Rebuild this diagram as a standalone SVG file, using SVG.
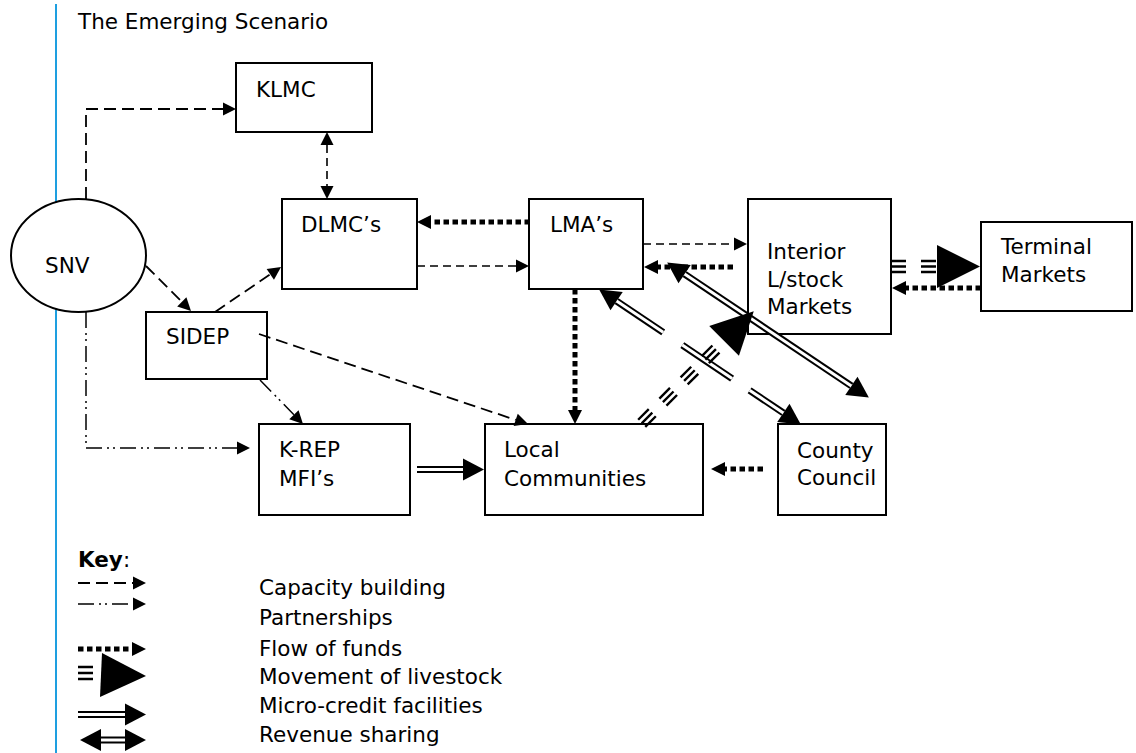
<svg xmlns="http://www.w3.org/2000/svg" width="1136" height="753" viewBox="0 0 1136 753">
<defs>
<style>
text{font-family:"DejaVu Sans",Verdana,sans-serif;font-size:21.5px;fill:#000}
.box{fill:#fff;stroke:#000;stroke-width:2}
.dl{fill:none;stroke:#000;stroke-width:1.8;stroke-dasharray:12 6;marker-end:url(#ah)}
.ds{fill:none;stroke:#000;stroke-width:1.6;stroke-dasharray:8 5;marker-end:url(#ah)}
.dd{fill:none;stroke:#000;stroke-width:1.5;stroke-dasharray:16 5 2 4 2 5;marker-end:url(#ah)}
.dot{fill:none;stroke:#000;stroke-width:5;stroke-dasharray:5.5 3.5;marker-end:url(#ahf)}
.dblb{fill:none;stroke:#000;stroke-width:7}
.dblw{fill:none;stroke:#fff;stroke-width:3}
.tri{fill:none;stroke:#000;stroke-width:2.4;stroke-dasharray:15 15}
.head{fill:#000}
</style>
<marker id="ah" markerUnits="userSpaceOnUse" markerWidth="13" markerHeight="13" refX="0" refY="6.5" orient="auto-start-reverse" overflow="visible"><path d="M0,0 L13,6.5 L0,13 z" fill="#000"/></marker>
<marker id="ahf" markerUnits="userSpaceOnUse" markerWidth="14" markerHeight="14" refX="0" refY="7" orient="auto-start-reverse" overflow="visible"><path d="M0,0 L14,7 L0,14 z" fill="#000"/></marker>
<marker id="ahr" markerUnits="userSpaceOnUse" markerWidth="21" markerHeight="22" refX="0" refY="11" orient="auto-start-reverse" overflow="visible"><path d="M0,0 L21,11 L0,22 z" fill="#000"/></marker>
</defs>
<rect width="1136" height="753" fill="#fff"/>
<line x1="56" y1="4" x2="56" y2="753" stroke="#1e9fe0" stroke-width="2"/>
<text x="78" y="29">The Emerging Scenario</text>

<g id="SNV"><ellipse class="box" cx="78.5" cy="255.5" rx="67.5" ry="56.5"/><text x="45" y="273">SNV</text></g>
<g id="KLMC"><rect class="box" x="236" y="63" width="136" height="69"/><text x="256" y="97">KLMC</text></g>
<g id="DLMC"><rect class="box" x="282" y="199" width="135" height="90"/><text x="301" y="232">DLMC’s</text></g>
<g id="LMA"><rect class="box" x="529" y="199" width="114" height="90"/><text x="550" y="232">LMA’s</text></g>
<g id="Interior"><rect class="box" x="748" y="199" width="143" height="135"/><text x="767" y="259">Interior</text><text x="767" y="287">L/stock</text><text x="767" y="314">Markets</text></g>
<g id="Terminal"><rect class="box" x="981" y="222" width="151" height="89"/><text x="1001" y="254">Terminal</text><text x="1001" y="282">Markets</text></g>
<g id="SIDEP"><rect class="box" x="146" y="312" width="121" height="67"/><text x="166" y="344">SIDEP</text></g>
<g id="KREP"><rect class="box" x="259" y="424" width="151" height="91"/><text x="279" y="457">K-REP</text><text x="279" y="486">MFI’s</text></g>
<g id="LocalCommunities"><rect class="box" x="485" y="424" width="218" height="91"/><text x="504" y="457">Local</text><text x="504" y="486">Communities</text></g>
<g id="CountyCouncil"><rect class="box" x="778" y="424" width="108" height="91"/><text x="797" y="458">County</text><text x="797" y="485">Council</text></g>

<g id="connectors">
<path class="dl" d="M86,199 V109 H223"/>
<path class="ds" d="M327,145 V186" marker-start="url(#ah)"/>
<path class="dl" d="M146,266 L181.8,301.8"/>
<path class="dl" d="M215,312 L270.3,274.3"/>
<path class="dl" d="M259,334 L515.7,419.9"/>
<path class="dd" d="M260,380 L293.9,414.7"/>
<path class="dd" d="M86,312 V448 H237"/>
<path class="dot" d="M530,222 H431"/>
<path class="ds" d="M417,266 H516"/>
<path class="ds" d="M643,244 H734"/>
<path class="dot" d="M733,267 H658"/>
<path class="dot" d="M575,289 V410"/>
<path class="dot" d="M763,469 H725"/>
<path class="dot" d="M981,288 H906"/>

<path class="dblb" d="M417,469.5 H463" marker-end="url(#ahr)"/>
<path class="dblw" d="M417,469.5 H463"/>

<path class="dblb" d="M616.6,301.1 L663.2,332.3" marker-start="url(#ahr)"/>
<path class="dblw" d="M616.6,301.1 L663.2,332.3"/>
<path class="dblb" d="M682.3,345.1 L732.1,378.6"/>
<path class="dblw" d="M682.3,345.1 L732.1,378.6"/>
<path class="dblb" d="M749.6,390.3 L783.4,412.9" marker-end="url(#ahr)"/>
<path class="dblw" d="M749.6,390.3 L783.4,412.9"/>

<path class="dblb" d="M684.6,274.1 L851.4,385.9" marker-start="url(#ahr)" marker-end="url(#ahr)"/>
<path class="dblw" d="M684.6,274.1 L851.4,385.9"/>

<g transform="translate(647,418) rotate(-45)">
<path class="tri" d="M-7.5,-5 H97.5 M-7.5,0 H97.5 M-7.5,5 H97.5"/>
<polygon class="head" points="109,-21 109,21 151,0"/>
</g>
<path class="tri" d="M891,261 H937 M891,266.5 H937 M891,272 H937"/>
<polygon class="head" points="937,245 937,288 980,266.5"/>
</g>

<g id="key">
<text x="78" y="567"><tspan font-weight="bold">Key</tspan>:</text>
<path class="dl" d="M78,583 H133"/>
<path class="dd" d="M78,604 H133"/>
<path class="dot" d="M78,649 H132"/>
<path d="M78,667 H93 M78,673 H93 M78,679 H93" stroke="#000" stroke-width="2.5"/>
<polygon class="head" points="102,653 100,697 146,676"/>
<path class="dblb" d="M78,714.5 H125" marker-end="url(#ahr)"/>
<path class="dblw" d="M78,714.5 H125"/>
<path class="dblb" d="M101,740 H125" marker-start="url(#ahr)" marker-end="url(#ahr)"/>
<path class="dblw" d="M101,740 H125"/>
<text x="259" y="595">Capacity building</text>
<text x="259" y="625">Partnerships</text>
<text x="259" y="656">Flow of funds</text>
<text x="259" y="684">Movement of livestock</text>
<text x="259" y="713">Micro-credit facilities</text>
<text x="259" y="742">Revenue sharing</text>
</g>
</svg>
